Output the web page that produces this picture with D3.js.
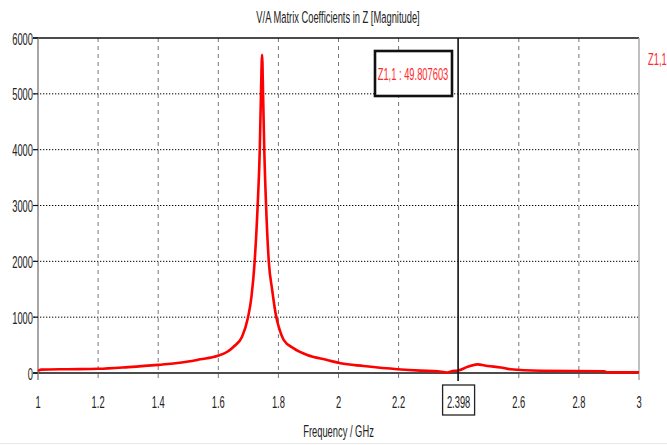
<!DOCTYPE html>
<html><head><meta charset="utf-8">
<script src="https://cdn.jsdelivr.net/npm/d3@7"></script>
<style>
html,body{margin:0;padding:0;background:#fff;}
svg{display:block;}
text{font-family:"Liberation Sans","DejaVu Sans",sans-serif;}
</style></head>
<body>
<svg id="chart" width="667" height="445"></svg>
<script>
const title = "V/A Matrix Coefficients in Z [Magnitude]";
const xLabel = "Frequency / GHz";
const seriesName = "Z1,1";
const markerFreq = 2.398;
const markerValue = 49.807603;
const xTicks = [1, 1.2, 1.4, 1.6, 1.8, 2, 2.2, 2.6, 2.8, 3];
const yTicks = [0, 1000, 2000, 3000, 4000, 5000, 6000];
const freq = [1.000,1.010,1.100,1.200,1.300,1.400,1.450,1.500,1.540,1.596,1.630,1.651,1.679,1.699,1.710,1.721,1.731,1.738,1.742,1.7457,1.749,1.753,1.759,1.768,1.779,1.793,1.801,1.818,1.851,1.896,1.962,2.007,2.084,2.196,2.273,2.330,2.362,2.380,2.398,2.430,2.462,2.496,2.540,2.573,2.673,2.884,2.896,3.000];
const mag = [35,60,68,75,105,145,170,205,245,304,380,471,650,1000,1350,2000,3000,4000,5000,5700,5000,4000,3000,2000,1500,1000,830,590,442,322,233,173,125,68,42,30,10,35,45,110,155,125,100,66,40,30,12,12];

const svg = d3.select("#chart");
const W = 667, H = 445;
const m = {left: 38, right: 639, top: 38, bottom: 373};
const x = d3.scaleLinear().domain([1, 3]).range([m.left, m.right]);
const y = d3.scaleLinear().domain([0, 6000]).range([m.bottom, m.top]);
const SX = 0.55;

function label(g, txt, tx, ty, anchor, color, size) {
  g.append("g").attr("transform", `translate(${tx},${ty}) scale(${SX},1)`)
    .append("text").attr("text-anchor", anchor).attr("fill", color || "#222")
    .attr("font-size", size || 17).text(txt);
}

svg.append("rect").attr("width", W).attr("height", H).attr("fill", "#fff");
svg.append("line").attr("x1",0).attr("x2",W).attr("y1",443.5).attr("y2",443.5).attr("stroke","#e8e8e8");

// vertical dashed grid
svg.append("g").selectAll("line").data(xTicks.filter(d => d > 1 && d < 3)).join("line")
  .attr("x1", d => x(d)).attr("x2", d => x(d)).attr("y1", m.top).attr("y2", m.bottom + 7)
  .attr("stroke", "#777").attr("stroke-width", 1).attr("stroke-dasharray", "4,4");
// horizontal dotted grid
svg.append("g").selectAll("line").data(yTicks.filter(d => d > 0 && d < 6000)).join("line")
  .attr("x1", m.left - 4).attr("x2", m.right).attr("y1", d => y(d)).attr("y2", d => y(d))
  .attr("stroke", "#000").attr("stroke-width", 1).attr("stroke-dasharray", "1.3,1.7");

// frame
svg.append("line").attr("x1", m.left - 5).attr("x2", m.right).attr("y1", m.top).attr("y2", m.top).attr("stroke", "#111").attr("stroke-width", 1.5);
svg.append("line").attr("x1", m.left - 5).attr("x2", m.right).attr("y1", m.bottom).attr("y2", m.bottom).attr("stroke", "#111").attr("stroke-width", 1.5);
svg.append("line").attr("x1", m.left).attr("x2", m.left).attr("y1", m.top).attr("y2", m.bottom + 7).attr("stroke", "#888").attr("stroke-width", 1.5);
svg.append("line").attr("x1", m.right).attr("x2", m.right).attr("y1", m.top).attr("y2", m.bottom + 7).attr("stroke", "#aaa").attr("stroke-width", 1.5);
// y tick marks
svg.append("g").selectAll("line").data(yTicks).join("line")
  .attr("x1", m.left - 5).attr("x2", m.left).attr("y1", d => y(d)).attr("y2", d => y(d))
  .attr("stroke", "#111").attr("stroke-width", 1.2);

// y labels
const gy = svg.append("g");
yTicks.forEach(d => label(gy, String(d), m.left - 5, y(d) + 6.5, "end"));
// x labels
const gx = svg.append("g");
xTicks.forEach(d => label(gx, String(d), x(d), 407.5, "middle"));

// curve
const line = d3.line().x((d, i) => x(freq[i])).y(d => y(d)).curve(d3.curveMonotoneX);
svg.append("path").datum(mag).attr("d", line).attr("fill", "none")
  .attr("stroke", "#ff0000").attr("stroke-width", 2.6).attr("stroke-linejoin", "round");

// marker line
svg.append("line").attr("x1", x(markerFreq)).attr("x2", x(markerFreq)).attr("y1", m.top).attr("y2", m.bottom + 8)
  .attr("stroke", "#111").attr("stroke-width", 1.6);
// marker x box
svg.append("rect").attr("x", x(markerFreq) - 15.5).attr("y", 385).attr("width", 32).attr("height", 30)
  .attr("fill", "#fff").attr("stroke", "#222").attr("stroke-width", 1.3);
label(svg, String(markerFreq), x(markerFreq) + 0.5, 407.5, "middle");

// annotation box
svg.append("rect").attr("x", 375).attr("y", 51).attr("width", 77).attr("height", 45)
  .attr("fill", "#fff").attr("stroke", "#111").attr("stroke-width", 2.6);
label(svg, `${seriesName} : ${markerValue.toFixed(6)}`, 413, 80, "middle", "#ff2a2a");

// series legend
label(svg, seriesName, 648, 65, "start", "#ff2a2a");

// title & x label
label(svg, title, 338, 23, "middle", "#222");
label(svg, xLabel, 338.5, 437, "middle", "#222");
</script>
</body></html>
